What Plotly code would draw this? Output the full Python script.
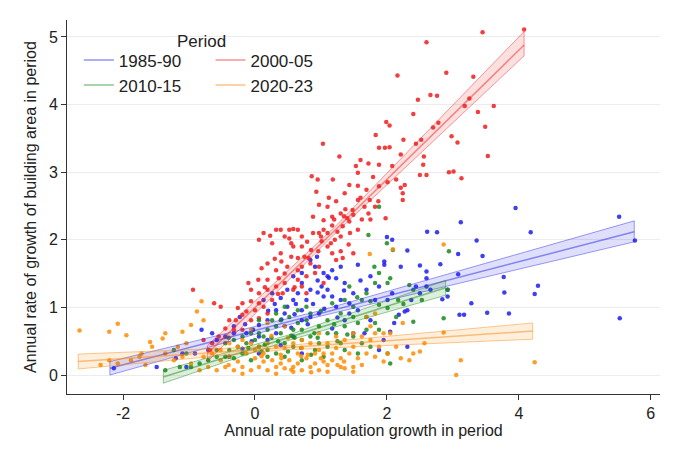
import plotly.graph_objects as go

periods = ["1985-90", "2000-05", "2010-15", "2020-23"]

# scatter points (population growth, building-area growth)
pts_1985 = [(3.95,2.47),(5.52,2.34),(5.76,1.99),(4.18,2.11),(3.12,2.26),(2.61,2.12),(2.76,2.11),(2.00,2.04),
    (2.08,2.00),(3.36,1.99),(3.08,1.79),(3.45,1.76),(2.31,1.84),(1.56,1.63),(1.96,1.68),(1.96,1.63),(2.21,1.60),
    (2.50,1.62),(2.81,1.64),(3.08,1.49),(3.77,1.45),(4.29,1.32),(4.24,1.20),(3.78,1.22),(3.28,1.06),(2.92,1.26),
    (2.92,1.16),(2.84,1.12),(2.60,1.53),(2.60,1.43),(2.60,1.31),(2.44,1.31),(2.31,0.96),(2.27,0.94),(2.18,0.89),
    (2.08,1.21),(2.11,0.77),(2.05,0.64),(2.31,0.42),(3.10,0.89),(3.17,0.89),(3.52,0.92),(3.85,0.91),(5.53,0.84),
    (1.75,1.46),(1.88,1.31),(1.69,1.26),(1.49,1.21),(1.36,1.36),(1.23,1.43),(1.10,1.46),(1.04,1.51),(1.17,1.55),
    (1.30,1.60),(0.91,1.60),(0.84,1.70),(0.94,1.75),(1.01,1.31),(1.10,1.26),(1.17,1.16),(1.30,1.11),(1.43,1.06),
    (0.71,1.36),(0.65,1.21),(0.78,1.11),(0.58,1.11),(0.49,1.01),(0.39,1.14),(0.32,0.96),(0.45,0.91),(0.71,0.96),
    (0.84,0.86),(0.97,0.91),(0.71,0.81),(0.19,0.81),(0.06,0.74),(-0.03,0.67),(-0.13,0.62),(-0.32,0.62),(-0.45,0.57),
    (-0.58,0.52),(-0.81,0.67),(-0.65,0.62),(-0.71,0.37),(-0.91,0.32),(-1.10,0.32),(-1.20,0.25),(-1.49,0.12),
    (-2.14,0.10),(-1.04,0.12),(0.32,0.62),(0.45,0.72),(0.06,0.57),(0.19,0.52),(0.39,0.44),(0.58,0.57),(1.17,0.69),
    (1.36,0.81),(1.56,0.96),(1.66,0.62),(1.75,0.81),(1.88,0.37),(1.49,0.62),(1.95,0.52),(0.71,0.32),(-0.19,0.39),
    (-0.39,0.27),(0.06,0.32),(1.82,1.11),(2.01,1.11),(2.37,1.11),(0.71,1.51),(0.58,1.46),(0.84,1.26),(1.04,1.16),
    (1.23,1.01),(1.43,0.91),(2.66,1.26),(2.50,1.21),(0.49,1.26),(0.26,1.21),(0.13,1.11),(-0.23,0.86),(-0.32,0.72),
    (1.12,1.44),(0.95,1.22),(0.62,1.05),(0.88,1.05),(1.60,1.40),(0.40,0.82),(-0.05,0.50),(1.25,0.85),(0.20,0.95),
    (0.55,0.70),(0.80,0.75),(1.05,0.98),(0.30,1.05),(-0.15,0.75),(0.95,1.40),(1.35,1.25),(0.60,0.90)]

pts_2000 = [(3.45,5.07),(4.08,5.11),(2.60,4.92),(2.16,4.43),(2.90,4.47),(3.31,4.41),(2.47,4.07),(2.66,4.14),
    (3.62,3.98),(3.25,4.09),(3.18,3.98),(2.40,3.86),(3.38,3.89),(3.49,3.67),(2.70,3.66),(2.78,3.73),(1.99,3.74),
    (2.04,3.69),(2.98,3.53),(3.07,3.44),(1.83,3.55),(2.04,3.37),(2.25,3.48),(2.52,3.48),(2.44,3.42),(3.53,3.24),
    (2.21,3.26),(2.56,3.23),(3.01,3.01),(2.94,3.00),(3.13,2.91),(2.50,2.96),(2.60,2.96),(2.55,3.11),(1.03,3.42),
    (1.28,3.23),(1.53,3.09),(1.60,3.18),(1.56,2.99),(1.88,3.11),(1.79,2.93),(1.72,3.13),(1.97,3.36),(1.88,3.36),
    (2.08,3.09),(2.14,2.89),(2.24,2.69),(2.27,2.81),(1.88,2.79),(2.01,2.85),(0.86,2.94),(0.95,2.89),(1.18,2.89),
    (0.93,2.71),(1.36,2.69),(1.23,2.57),(1.43,2.81),(1.56,2.80),(1.69,2.74),(1.74,2.59),(1.82,2.49),(1.87,2.57),
    (1.66,2.49),(1.48,2.44),(0.97,2.52),(1.10,2.49),(1.17,2.34),(1.30,2.39),(1.40,2.32),(1.49,2.37),(1.62,2.30),
    (1.75,2.30),(1.72,2.39),(1.43,2.27),(1.56,2.15),(1.44,2.10),(1.33,2.20),(1.25,2.12),(1.17,2.21),(1.04,2.15),
    (0.97,2.10),(0.88,2.10),(1.01,1.98),(1.10,1.90),(0.96,1.83),(1.17,1.80),(1.23,1.70),(1.33,1.73),(1.49,1.80),
    (0.32,2.15),(0.39,2.15),(0.52,2.15),(0.58,2.16),(0.65,2.15),(0.06,2.00),(0.13,2.10),(0.23,2.06),(0.26,1.95),
    (0.45,2.05),(0.52,2.02),(0.71,2.05),(0.79,1.97),(0.71,1.90),(0.58,1.90),(0.39,1.80),(0.55,1.75),(0.65,1.73),
    (0.81,1.73),(0.84,1.65),(0.71,1.60),(0.49,1.60),(0.32,1.55),(0.19,1.65),(0.10,1.58),(0.05,1.41),(0.19,1.41),
    (0.36,1.43),(0.45,1.36),(0.65,1.41),(0.78,1.46),(0.91,1.51),(0.97,1.60),(1.04,1.36),(-0.10,1.36),(-0.06,1.26),
    (0.06,1.21),(0.19,1.26),(0.32,1.31),(0.42,1.21),(0.26,1.11),(0.06,1.06),(-0.06,1.09),(-0.19,1.06),(-0.26,0.99),
    (-0.13,0.94),(0.00,0.96),(0.13,1.01),(0.19,0.91),(-0.19,0.89),(-0.29,0.81),(-0.39,0.81),(-0.52,1.01),
    (-0.62,1.06),(-0.94,1.26),(-0.45,0.69),(-0.32,0.67),(-0.19,0.67),(-0.55,0.57),(-0.65,0.47),(-0.68,0.37),
    (-0.78,0.52),(-0.06,0.81),(0.06,0.84),(0.71,1.31),(0.78,1.21),(0.58,1.26),(0.45,1.50),(0.65,1.55),(1.10,2.10),
    (1.21,2.00),(1.42,1.93),(1.30,1.83),(0.88,2.34),(1.04,2.29),(1.56,2.59),(1.98,2.32),(2.24,2.59),(2.21,2.77),
    (2.76,4.13),(1.30,2.05),(1.37,2.45),(1.12,2.62),(0.55,1.95),(0.40,1.68),(0.15,1.30),(0.30,1.72),(1.60,2.62),
    (1.20,2.30),(1.35,2.35),(1.00,2.05),(0.85,1.85),(0.60,1.30),(0.35,1.20),(1.15,1.95),(0.75,1.75)]

pts_2010 = [(1.88,2.49),(1.72,2.07),(2.00,1.95),(2.09,1.85),(2.94,1.83),(1.81,1.60),(1.88,1.51),(1.82,1.36),
    (2.01,1.36),(2.05,1.43),(1.69,1.21),(1.75,1.09),(1.43,1.31),(1.36,1.11),(2.34,1.33),(2.40,1.26),(2.92,1.26),
    (2.86,0.84),(2.40,0.79),(1.88,1.04),(2.01,0.99),(2.14,0.86),(1.69,0.86),(1.56,0.77),(1.36,0.72),(1.23,0.62),
    (1.10,0.81),(0.97,0.72),(0.84,0.91),(0.78,0.81),(0.65,0.77),(0.52,0.86),(0.39,0.81),(0.32,0.72),(0.19,0.67),
    (0.13,0.57),(0.00,0.52),(-0.13,0.47),(-0.26,0.42),(-0.39,0.37),(-0.45,0.27),(-0.58,0.27),(-0.71,0.22),
    (-0.84,0.17),(-0.97,0.12),(-1.14,0.12),(-1.36,0.07),(0.06,0.42),(0.19,0.37),(0.32,0.32),(0.45,0.47),(0.58,0.42),
    (0.71,0.52),(0.84,0.57),(0.97,0.47),(1.10,0.42),(1.30,0.47),(1.49,0.57),(1.62,0.47),(1.75,0.42),(2.01,0.32),
    (2.05,0.17),(-0.19,0.32),(-0.32,0.25),(-0.06,0.22),(0.19,0.27),(0.39,0.62),(0.58,0.67),(0.71,0.67),(0.78,1.01),
    (0.65,0.96),(0.45,1.01),(0.32,0.91),(0.26,0.81),(1.17,1.06),(1.30,0.91),(1.49,0.86),(1.69,0.67),(1.82,0.77),
    (1.88,0.67),(0.91,0.37),(0.06,0.62),(-0.06,0.62),(-0.19,0.57),(-0.32,0.52),(-0.45,0.47),(-0.58,0.37),(0.06,0.81),
    (2.53,1.11),(2.17,1.11),(1.62,1.11),(1.49,1.01),(1.10,0.62),(1.36,0.37),(1.56,0.32),(0.45,0.27),(0.71,0.22),
    (1.04,0.27),(-1.04,0.32),(-1.23,0.37),(0.25,0.55),(0.55,0.58),(0.90,0.62),(1.20,0.75),(0.10,0.35),(-0.40,0.55),
    (0.70,0.40),(1.00,0.95),(1.55,1.15),(2.25,1.05),(0.35,0.50),(0.85,0.30),(0.15,0.45),(0.50,0.35),(1.25,0.50),
    (0.60,0.55),(-0.10,0.40),(1.40,0.60),(0.95,0.55)]

pts_2020 = [(-2.66,0.66),(-2.08,0.76),(-2.21,0.64),(-1.95,0.59),(-1.59,0.49),(-1.10,0.64),(-1.40,0.54),(-0.81,1.09),
    (-0.88,0.94),(-0.78,0.81),(-0.97,0.74),(-1.88,0.22),(-1.75,0.27),(-1.66,0.15),(-1.36,0.32),(-1.23,0.22),
    (-1.10,0.27),(-0.97,0.17),(-0.84,0.07),(-0.71,0.12),(-0.58,0.07),(-0.45,0.12),(-0.32,0.07),(-0.19,0.12),
    (-0.06,0.07),(0.06,0.12),(0.19,0.07),(0.32,0.12),(0.45,0.10),(0.58,0.12),(0.71,0.07),(0.84,0.12),(0.97,0.07),
    (1.10,0.15),(1.30,0.12),(1.36,0.10),(1.49,0.12),(1.62,0.15),(-0.52,0.22),(-0.39,0.27),(-0.26,0.20),(-0.13,0.32),
    (0.00,0.25),(0.13,0.32),(0.26,0.22),(0.39,0.30),(0.52,0.22),(0.65,0.32),(0.78,0.25),(0.91,0.32),(1.04,0.20),
    (1.17,0.32),(1.30,0.25),(1.43,0.32),(1.56,0.25),(1.69,0.32),(1.82,0.27),(1.88,0.42),(0.06,0.42),(0.19,0.47),
    (0.32,0.42),(0.45,0.40),(0.58,0.47),(0.71,0.40),(0.84,0.47),(0.97,0.37),(1.10,0.47),(1.23,0.40),(1.36,0.52),
    (1.49,0.42),(1.62,0.57),(1.75,0.52),(1.82,0.62),(1.74,1.79),(2.09,1.86),(2.86,1.93),(2.86,0.63),(2.24,0.77),
    (2.05,0.62),(2.57,0.47),(2.50,0.35),(2.40,0.32),(2.21,0.25),(3.12,0.22),(3.05,0.00),(4.24,0.19),(-0.26,0.42),
    (-0.39,0.47),(-0.52,0.37),(-0.65,0.32),(-0.78,0.27),(-0.19,0.52),(-0.06,0.47),(0.00,0.37),(0.13,0.20),(0.39,0.17),
    (0.65,0.17),(0.91,0.17),(1.17,0.22),(0.58,0.05),(0.32,0.02),(-0.19,0.02),(1.10,0.05),(1.49,0.05),(0.71,0.52),
    (0.97,0.62),(1.23,0.57),(1.49,0.62),(1.75,0.72),(1.95,0.62),(1.04,0.32),(2.01,0.32),(1.95,0.20),(2.34,0.22),
    (2.14,0.42),(1.69,0.86),(1.82,0.91),(0.45,0.72),(0.19,0.77),(-0.06,0.67),(-1.36,0.62),(-1.56,0.42),(-1.72,0.32),
    (-2.08,0.17),(-2.21,0.22),(-2.34,0.15),(-1.17,0.42),(-1.04,0.47),(0.25,0.58),(0.80,0.30),(1.25,0.15),(0.50,0.55),
    (0.10,0.28),(0.40,0.25),(0.70,0.28),(1.00,0.25),(1.35,0.20),(0.55,0.08),(0.85,0.04),(-0.40,0.15)]

# fitted lines with 95% CI (x, fit, lower, upper)
fit_x = {"1985-90": [-2.2, 0.9, 5.75], "2000-05": [-0.72, 1.2, 4.08],
         "2010-15": [-1.39, 0.5, 2.89], "2020-23": [-2.68, 0.4, 4.21]}
fit_y = {"1985-90": [0.10, 0.89, 2.12], "2000-05": [0.32, 2.13, 4.88],
         "2010-15": [-0.03, 0.55, 1.29], "2020-23": [0.20, 0.40, 0.65]}
fit_lo = {"1985-90": [0.00, 0.85, 1.97], "2000-05": [0.20, 2.08, 4.72],
          "2010-15": [-0.12, 0.51, 1.18], "2020-23": [0.09, 0.37, 0.53]}
fit_hi = {"1985-90": [0.20, 0.93, 2.28], "2000-05": [0.44, 2.18, 5.08],
          "2010-15": [0.07, 0.59, 1.40], "2020-23": [0.31, 0.43, 0.77]}

x_ticks = [-2, 0, 2, 4, 6]
x_ticktext = ["-2", "0", "2", "4", "6"]
y_ticks = [0, 1, 2, 3, 4, 5]

dot_colors = {"1985-90": "#1c1cf0", "2000-05": "#f01c1c", "2010-15": "#1b8a1b", "2020-23": "#ff8c00"}
rgb = {"1985-90": "40,40,230", "2000-05": "235,40,40", "2010-15": "30,140,30", "2020-23": "245,140,20"}
points = {"1985-90": pts_1985, "2000-05": pts_2000, "2010-15": pts_2010, "2020-23": pts_2020}

fig = go.Figure()

for p in periods:
    xs = [a for a, b in points[p]]
    ys = [b for a, b in points[p]]
    fig.add_trace(go.Scatter(x=xs, y=ys, mode="markers", showlegend=False,
                             marker=dict(size=4.5, color=dot_colors[p], opacity=0.85)))

for p in periods:
    c = rgb[p]
    fig.add_trace(go.Scatter(x=fit_x[p], y=fit_lo[p], mode="lines", showlegend=False,
                             line=dict(color=f"rgba({c},0.45)", width=1)))
    fig.add_trace(go.Scatter(x=fit_x[p], y=fit_hi[p], mode="lines", showlegend=False, fill="tonexty",
                             fillcolor=f"rgba({c},0.15)", line=dict(color=f"rgba({c},0.45)", width=1)))
    for i in (0, -1):
        fig.add_trace(go.Scatter(x=[fit_x[p][i], fit_x[p][i]], y=[fit_lo[p][i], fit_hi[p][i]], mode="lines",
                                 showlegend=False, line=dict(color=f"rgba({c},0.45)", width=1)))
    leg = "legend" if p in ("1985-90", "2010-15") else "legend2"
    fig.add_trace(go.Scatter(x=fit_x[p], y=fit_y[p], mode="lines", name=p, legend=leg,
                             line=dict(color=f"rgba({c},0.5)", width=1.5)))

font = "Liberation Sans, Arial, sans-serif"
legend_common = dict(font=dict(family=font, size=17, color="#222"), bgcolor="rgba(0,0,0,0)",
                     itemwidth=30, tracegroupgap=0, traceorder="normal", yanchor="top", xanchor="left")

fig.update_layout(
    width=673, height=455,
    margin=dict(l=67, r=13, t=20, b=61),
    paper_bgcolor="white", plot_bgcolor="white",
    font=dict(family=font, size=16, color="#222"),
    legend=dict(x=0.02, y=0.94, **legend_common),
    legend2=dict(x=0.242, y=0.94, **legend_common),
    xaxis=dict(range=[-2.85, 6.14], tickvals=x_ticks, ticktext=x_ticktext, showgrid=False, zeroline=False,
               showline=True, linecolor="#333", linewidth=1, ticks="outside", ticklen=5, tickcolor="#333",
               tickfont=dict(size=16), title=dict(text="Annual rate population growth in period",
                                                   font=dict(size=16), standoff=2)),
    yaxis=dict(range=[-0.28, 5.25], tickvals=y_ticks, showgrid=True, gridcolor="#ececec",
               zeroline=False, showline=True, linecolor="#333", linewidth=1, ticks="outside", ticklen=5,
               tickcolor="#333", tickfont=dict(size=16), tickangle=0,
               title=dict(text="Annual rate of growth of building area in period", font=dict(size=16), standoff=8)),
    annotations=[dict(text="Period", x=0.227, y=0.942, xref="paper", yref="paper", showarrow=False,
                      xanchor="center", yanchor="middle", font=dict(family=font, size=17, color="#222"))],
)

fig.write_html("out.html")
